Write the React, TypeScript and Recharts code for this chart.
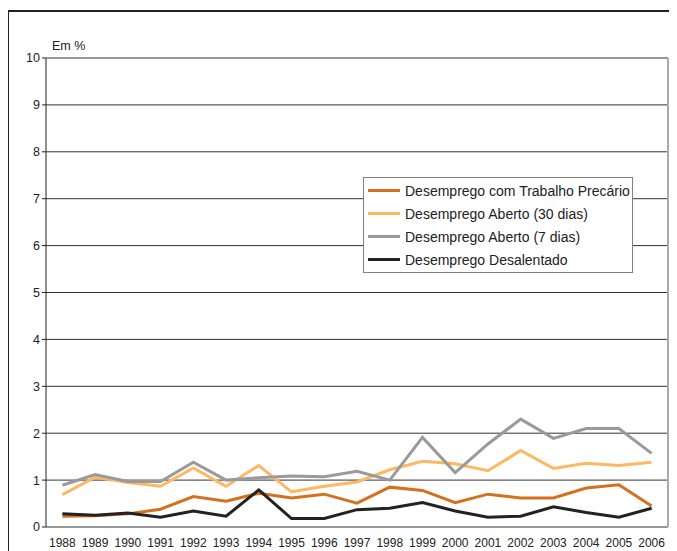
import React from "react";
import { LineChart, Line, XAxis, YAxis, CartesianGrid, Legend, ReferenceLine } from "recharts";

const years = [1988, 1989, 1990, 1991, 1992, 1993, 1994, 1995, 1996, 1997, 1998, 1999, 2000, 2001, 2002, 2003, 2004, 2005, 2006];
const precario = [0.23, 0.24, 0.28, 0.38, 0.65, 0.55, 0.72, 0.62, 0.7, 0.51, 0.85, 0.78, 0.52, 0.7, 0.62, 0.62, 0.83, 0.9, 0.45];
const aberto30 = [0.69, 1.06, 0.95, 0.87, 1.26, 0.87, 1.31, 0.75, 0.87, 0.96, 1.22, 1.4, 1.35, 1.2, 1.63, 1.25, 1.36, 1.31, 1.38];
const aberto7 = [0.89, 1.12, 0.97, 0.97, 1.38, 1.0, 1.05, 1.09, 1.07, 1.19, 1.0, 1.91, 1.16, 1.77, 2.3, 1.89, 2.1, 2.1, 1.57];
const desalentado = [0.28, 0.25, 0.3, 0.21, 0.34, 0.23, 0.79, 0.18, 0.18, 0.37, 0.4, 0.52, 0.34, 0.21, 0.23, 0.43, 0.31, 0.21, 0.4];
const yTicks = [0, 1, 2, 3, 4, 5, 6, 7, 8, 9, 10];

const series = [
  { key: "precario", name: "Desemprego com Trabalho Precário", color: "#d5701c" },
  { key: "aberto30", name: "Desemprego Aberto (30 dias)", color: "#fdb862" },
  { key: "aberto7", name: "Desemprego Aberto (7 dias)", color: "#9a9a9a" },
  { key: "desalentado", name: "Desemprego Desalentado", color: "#222222" },
];

const data = years.map((year, i) => ({
  year,
  precario: precario[i],
  aberto30: aberto30[i],
  aberto7: aberto7[i],
  desalentado: desalentado[i],
}));

// tick marks sit between the years
const bounds = [...years.map((y) => y - 0.5), years[years.length - 1] + 0.5];
const xDomain = [bounds[0], bounds[bounds.length - 1]];

const font = "'Liberation Sans', Arial, sans-serif";

function LegendBox() {
  return (
    <div
      style={{
        border: "1px solid #808080",
        background: "#fff",
        padding: "1px 4px",
        width: 260,
        fontFamily: font,
        fontSize: 14,
        color: "#222",
        whiteSpace: "nowrap",
      }}
    >
      {series.map((s) => (
        <div key={s.key} style={{ display: "flex", alignItems: "center", height: 23 }}>
          <span style={{ display: "inline-block", width: 32, height: 3, background: s.color, marginRight: 5, flexShrink: 0 }} />
          <span>{s.name}</span>
        </div>
      ))}
    </div>
  );
}

export default function App() {
  return (
    <div
      style={{
        position: "relative",
        width: 668,
        height: 539,
        marginLeft: -1,
        marginTop: 2,
        borderTop: "2px solid #222",
        borderLeft: "2px solid #222",
        fontFamily: font,
      }}
    >
      <span style={{ position: "absolute", left: 43, top: 27, fontSize: 12.5, color: "#222" }}>Em %</span>
      <LineChart width={668} height={539} data={data} margin={{ top: 46, right: 9, left: 0, bottom: 0 }}>
        <CartesianGrid horizontal vertical={false} stroke="#333" strokeWidth={1} />
        <XAxis
          xAxisId="b"
          type="number"
          dataKey="year"
          domain={xDomain}
          ticks={bounds}
          tick={false}
          tickSize={4}
          height={0}
          stroke="#222"
          interval={0}
        />
        <XAxis
          xAxisId="yr"
          type="number"
          dataKey="year"
          domain={xDomain}
          ticks={years}
          interval={0}
          axisLine={false}
          tickLine={false}
          height={24}
          tickMargin={5}
          tick={{ fill: "#222", fontSize: 12, fontFamily: font }}
        />
        <YAxis
          type="number"
          domain={[0, 10]}
          ticks={yTicks}
          interval={0}
          width={37}
          tickSize={4}
          stroke="#222"
          tick={{ fill: "#222", fontSize: 12.5, fontFamily: font }}
        />
        <ReferenceLine xAxisId="yr" y={10} stroke="#999" strokeWidth={2} />
        <ReferenceLine xAxisId="yr" x={xDomain[1]} stroke="#aaa" strokeWidth={2} />
        {series.map((s) => (
          <Line
            key={s.key}
            xAxisId="yr"
            dataKey={s.key}
            name={s.name}
            type="linear"
            stroke={s.color}
            strokeWidth={3}
            dot={false}
            isAnimationActive={false}
          />
        ))}
        <Legend
          layout="vertical"
          align="center"
          verticalAlign="middle"
          content={() => <LegendBox />}
          wrapperStyle={{ left: 354, top: 165, width: "auto" }}
        />
      </LineChart>
    </div>
  );
}
